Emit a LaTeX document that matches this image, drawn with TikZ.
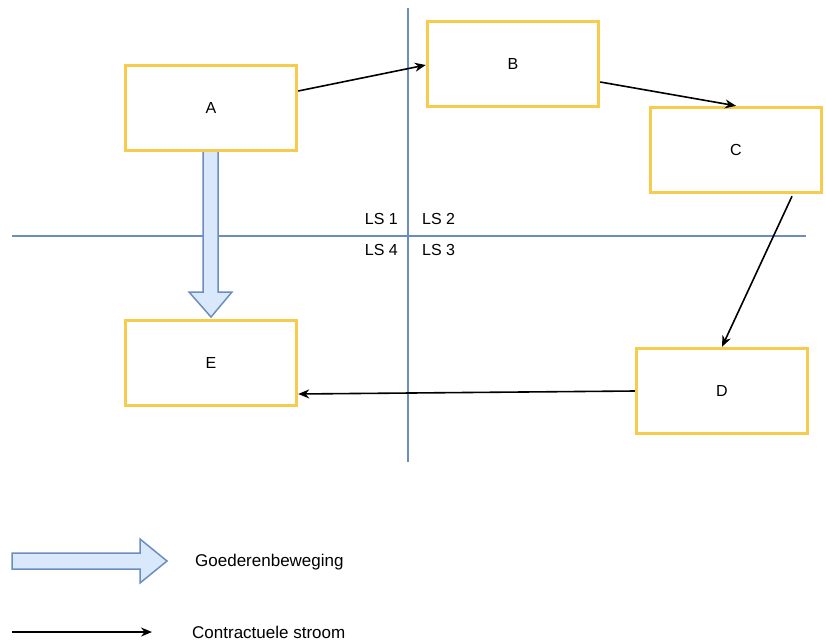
\documentclass[tikz,border=0pt]{standalone}
\usepackage{fontspec}
\setmainfont{Liberation Sans}
\usetikzlibrary{arrows.meta,calc}
\definecolor{boxyellow}{HTML}{F7CB4D}
\definecolor{lineblue}{HTML}{6C8EBF}
\definecolor{fillblue}{HTML}{DAE8FC}
\tikzset{
  entity/.style={draw=boxyellow, line width=3.4pt, fill=white, minimum width=171pt, minimum height=85pt, inner sep=0pt, font=\fontsize{16}{19}\selectfont},
  divider/.style={draw=lineblue, line width=1.5pt},
  contract/.style={draw=black, line width=1.6pt, -{Stealth[length=11pt,width=9pt]}},
  goods/.style={draw=lineblue, line width=1.5pt, fill=fillblue, line join=miter},
  lbl/.style={font=\fontsize{16}{19}\selectfont, inner sep=0pt},
  legendlbl/.style={font=\fontsize{17}{20}\selectfont, inner sep=0pt},
}
\begin{document}
\begin{tikzpicture}[x=1pt,y=-1pt]
\useasboundingbox (0,0) rectangle (826,643);
% divider lines
\coordinate (vtop) at (408,8);
\coordinate (vbot) at (408,462);
\coordinate (hleft) at (12,236);
\coordinate (hright) at (806,236);
\draw[divider] (vtop) -- (vbot);
\draw[divider] (hleft) -- (hright);
% LS labels
\node[lbl, anchor=east] (ls1) at (398,219) {LS 1};
\node[lbl, anchor=west] (ls2) at (422,219) {LS 2};
\node[lbl, anchor=east] (ls4) at (398,250) {LS 4};
\node[lbl, anchor=west] (ls3) at (422,250) {LS 3};
% goods arrow A -> E
\draw[goods] (203,151) -- (218,151) -- (218,292) -- (232,292) -- (211,317) -- (189,292) -- (203,292) -- cycle;
% boxes
\node[entity] (A) at (211,108) {A};
\node[entity] (B) at (513,64) {B};
\node[entity] (C) at (736,150) {C};
\node[entity] (D) at (722,391) {D};
\node[entity] (E) at (211,363) {E};
% contract arrows
\draw[contract] ([yshift=17pt]A.east) -- ([yshift=-1pt]B.west);
\draw[contract] ([yshift=-18pt]B.east) -- (C.north);
\draw[contract] ([xshift=56pt,yshift=-2pt]C.south) -- (D.north);
\draw[contract] (D.west) -- ([yshift=-31pt]E.east);
% legend
\draw[goods] (12,553) -- (140,553) -- (140,539) -- (167,561) -- (140,583) -- (140,569) -- (12,569) -- cycle;
\node[legendlbl, anchor=west] (lg1) at (195,562) {Goederenbeweging};
\coordinate (lstart) at (12,632);
\coordinate (lend) at (152,632);
\draw[contract] (lstart) -- (lend);
\node[legendlbl, anchor=west] (lg2) at (192,632) {Contractuele stroom};
\end{tikzpicture}
\end{document}
